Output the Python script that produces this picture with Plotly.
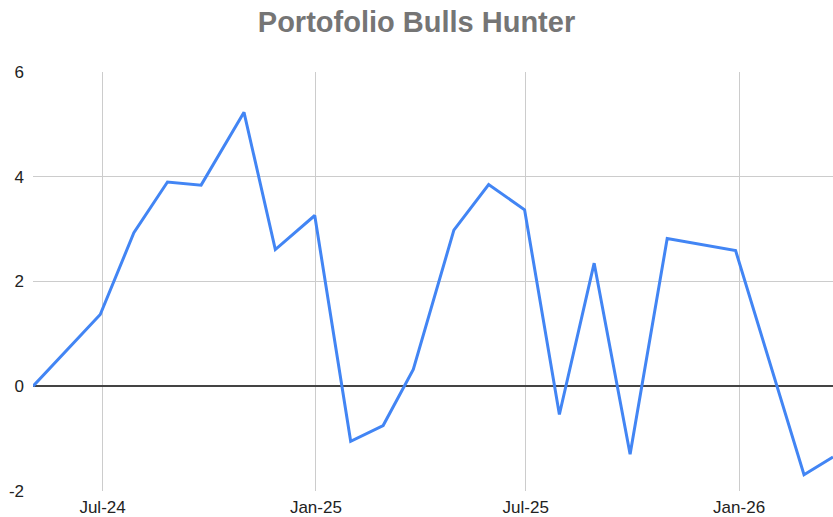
import plotly.graph_objects as go

title_text = "Portofolio Bulls Hunter"
dates = ["2024-05-02", "2024-06-29", "2024-07-28", "2024-08-26", "2024-09-24",
         "2024-10-31", "2024-11-27", "2024-12-31", "2025-01-31", "2025-02-28",
         "2025-03-26", "2025-04-30", "2025-05-30", "2025-06-30", "2025-07-30",
         "2025-08-29", "2025-09-29", "2025-10-31", "2025-12-29", "2026-02-26",
         "2026-03-23"]
values = [0, 1.37, 2.93, 3.90, 3.84, 5.23, 2.61, 3.26, -1.05, -0.75,
          0.32, 2.98, 3.85, 3.37, -0.54, 2.35, -1.30, 2.82, 2.59, -1.69,
          -1.35]
y_ticks = [-2, 0, 2, 4, 6]
y_tick_text = ["-2", "0", "2", "4", "6"]
x_range = ["2024-05-02", "2026-03-23"]

fig = go.Figure()
fig.add_trace(go.Scatter(
    x=dates, y=values, mode="lines",
    line=dict(color="#4285F4", width=3),
    showlegend=False,
))

fig.update_layout(
    width=833, height=517,
    margin=dict(l=33, r=0, t=72, b=26),
    paper_bgcolor="white", plot_bgcolor="white",
    font=dict(family="Liberation Sans, Arial, sans-serif", size=17, color="#222222"),
    title=dict(text="<b>" + title_text + "</b>", x=0.5, xanchor="center",
               y=0.958, yanchor="middle",
               font=dict(size=29, color="#757575",
                         family="Liberation Sans, Arial, sans-serif")),
)
fig.update_xaxes(
    type="date", range=x_range,
    tick0="2024-07-01", dtick="M6", tickformat="%b-%y",
    showgrid=True, gridcolor="#cccccc", gridwidth=1,
    showline=False, zeroline=False, ticks="",
    ticklabelstandoff=4,
)
fig.update_yaxes(
    range=[-2, 6], tickvals=y_ticks, ticktext=y_tick_text,
    showgrid=True, gridcolor="#cccccc", gridwidth=1,
    zeroline=True, zerolinecolor="#444444", zerolinewidth=1.5,
    showline=False, ticks="", ticklabelstandoff=8,
)

fig.write_html("out.html", config={"displayModeBar": False},
               post_script="document.body.style.margin='0';document.body.style.overflow='hidden';")
